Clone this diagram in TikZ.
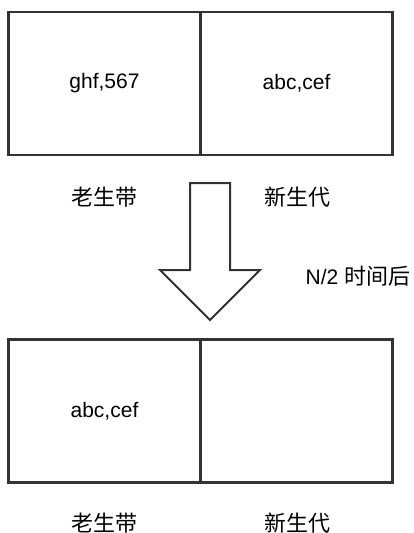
\documentclass[tikz,border=0pt]{standalone}
\usepackage{fontspec}
\setmainfont{Liberation Sans}
\newfontfamily\cjk{Noto Sans CJK SC}
\usetikzlibrary{positioning}

\tikzset{
  cell/.style={draw=black!80, line width=2.4pt, minimum width=192pt,
    minimum height=143pt, inner sep=0pt, outer sep=0pt,
    font=\fontsize{21}{25}\selectfont},
  gen/.style={font=\cjk\fontsize{22}{26}\selectfont, inner sep=0pt},
  bigarrow/.style={draw=black!80, line width=2pt, fill=white, line join=miter}
}

\begin{document}
\begin{tikzpicture}[x=1pt, y=-1pt]
  \useasboundingbox (0,0) rectangle (414,533);

  % before
  \node[cell] (oldA) at (104.5,83.5) {ghf,567};
  \node[cell, anchor=west] (newA) at (oldA.east) {abc,cef};
  \node[gen] (oldAlbl) at (104,197) {老生带};
  \node[gen] (newAlbl) at (297,197) {新生代};

  % after
  \node[cell] (oldB) at (104.5,411) {abc,cef};
  \node[cell, anchor=west] (newB) at (oldB.east) {};
  \node[gen] (oldBlbl) at (104,523) {老生带};
  \node[gen] (newBlbl) at (297,523) {新生代};

  % N/2 step
  \coordinate (tip) at (210,320);
  \draw[bigarrow] (tip) -- ++(-50,-50) -- ++(30,0) -- ++(0,-87)
    -- ++(40,0) -- ++(0,87) -- ++(30,0) -- cycle;
  \node[font=\fontsize{21}{25}\selectfont, inner sep=0pt] (step)
    at (358,276) {N/2 {\cjk\fontsize{22}{26}\selectfont 时间后}};

\end{tikzpicture}
\end{document}
